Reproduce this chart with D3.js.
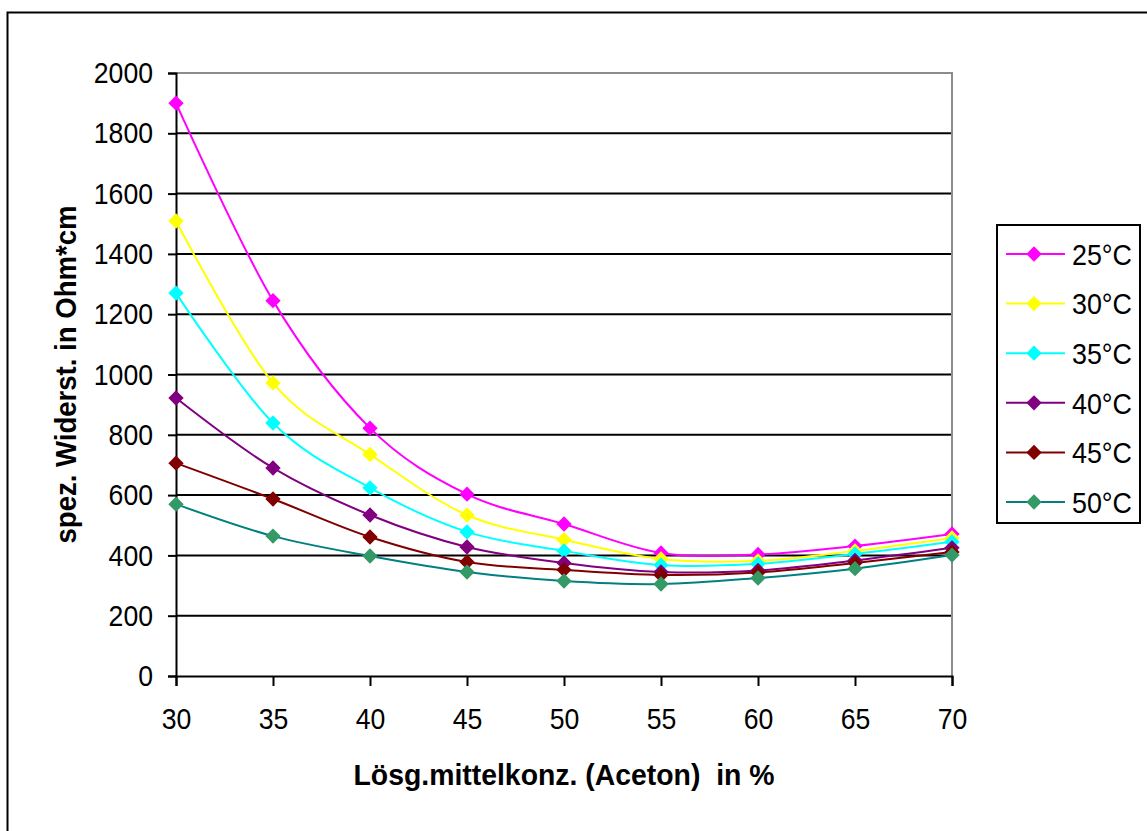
<!DOCTYPE html>
<html>
<head>
<meta charset="utf-8">
<script src="https://cdn.jsdelivr.net/npm/d3@7"></script>
<style>
  html, body { margin: 0; padding: 0; background: #fff; }
  svg { display: block; }
  text { font-family: "Liberation Sans Narrow", "Arial Narrow", "Liberation Sans", Arial, sans-serif; fill: #000; }
</style>
</head>
<body>
<svg id="chart" width="1147" height="831"></svg>
<script>
// ---- data ----
const concentrations = [30, 35, 40, 45, 50, 55, 60, 65, 70];
const seriesNames = ["25°C", "30°C", "35°C", "40°C", "45°C", "50°C"];
const s25 = [1900, 1245, 822, 603, 504, 408, 403, 431, 471];
const s30 = [1509, 972, 735, 534, 452, 388, 382, 415, 458];
const s35 = [1270, 839, 624, 478, 415, 368, 372, 405, 445];
const s40 = [922, 690, 534, 428, 375, 345, 350, 383, 425];
const s45 = [706, 587, 461, 378, 352, 335, 343, 375, 411];
const s50 = [570, 464, 398, 345, 315, 305, 325, 356, 401];
const yTicks = [0, 200, 400, 600, 800, 1000, 1200, 1400, 1600, 1800, 2000];
const xTicks = [30, 35, 40, 45, 50, 55, 60, 65, 70];
const xTitle = "Lösg.mittelkonz. (Aceton)  in %";
const yTitle = "spez. Widerst. in Ohm*cm";

const seriesValues = [s25, s30, s35, s40, s45, s50];
const lineColors = ["#FF00FF", "#FFFF00", "#00FFFF", "#800080", "#800000", "#008080"];
const markerColors = ["#FF00FF", "#FFFF00", "#00FFFF", "#800080", "#800000", "#339966"];

// ---- layout ----
const svg = d3.select("#chart");
const plot = { left: 176, right: 952, top: 73, bottom: 676 };

const x = d3.scaleLinear().domain([30, 70]).range([plot.left, plot.right]);
const y = d3.scaleLinear().domain([0, 2000]).range([plot.bottom, plot.top]);

// outer chart border
svg.append("rect")
  .attr("x", 7.5).attr("y", 12.5)
  .attr("width", 1160).attr("height", 840)
  .attr("fill", "#fff").attr("stroke", "#000").attr("stroke-width", 2);

// gridlines
svg.append("g")
  .selectAll("line")
  .data(yTicks.filter(t => t > 0 && t < 2000))
  .join("line")
  .attr("x1", plot.left).attr("x2", plot.right)
  .attr("y1", d => y(d)).attr("y2", d => y(d))
  .attr("stroke", "#000").attr("stroke-width", 2);

// plot area border (top & right) grey
svg.append("path")
  .attr("d", `M${plot.left},${plot.top}H${plot.right}V${plot.bottom}`)
  .attr("fill", "none").attr("stroke", "#8c8c8c").attr("stroke-width", 2);

// axes
const yAxis = d3.axisLeft(y).tickValues(yTicks).tickSize(8).tickPadding(15).tickFormat(d3.format("d"));
const gy = svg.append("g").attr("transform", `translate(${plot.left},0)`).call(yAxis);
const xAxis = d3.axisBottom(x).tickValues(xTicks).tickSize(10).tickPadding(22).tickFormat(d3.format("d"));
const gx = svg.append("g").attr("transform", `translate(0,${plot.bottom})`).call(xAxis);

[gy, gx].forEach(g => {
  g.select(".domain").attr("stroke", "#000").attr("stroke-width", 2);
  g.selectAll(".tick line").attr("stroke", "#000").attr("stroke-width", 2);
  g.selectAll(".tick text")
    .attr("fill", "#111")
    .style("font-size", "30px")
    .attr("textLength", d => String(d).length * 14.8)
    .attr("lengthAdjust", "spacingAndGlyphs");
});

// series lines
const line = d3.line()
  .x((d, i) => x(concentrations[i]))
  .y(d => y(d))
  .curve(d3.curveCardinal.tension(0));

const diamond = d3.symbol().type(d3.symbolDiamond2).size(150);

seriesValues.forEach((vals, si) => {
  svg.append("path")
    .datum(vals)
    .attr("d", line)
    .attr("fill", "none")
    .attr("stroke", lineColors[si])
    .attr("stroke-width", 2);
});
seriesValues.forEach((vals, si) => {
  svg.append("g")
    .selectAll("path")
    .data(vals)
    .join("path")
    .attr("d", diamond)
    .attr("transform", (d, i) => `translate(${x(concentrations[i])},${y(d)})`)
    .attr("fill", markerColors[si]);
});

// axis titles
svg.append("text")
  .attr("x", (plot.left + plot.right) / 2)
  .attr("y", 785)
  .attr("text-anchor", "middle")
  .attr("xml:space", "preserve")
  .style("white-space", "pre")
  .style("font-size", "29px")
  .style("font-weight", "bold")
  .attr("textLength", 421)
  .attr("lengthAdjust", "spacingAndGlyphs")
  .text(xTitle);

svg.append("text")
  .attr("transform", `translate(76,${(plot.top + plot.bottom) / 2}) rotate(-90)`)
  .attr("text-anchor", "middle")
  .style("font-size", "29px")
  .style("font-weight", "bold")
  .attr("textLength", 338)
  .attr("lengthAdjust", "spacingAndGlyphs")
  .text(yTitle);

// legend
const legend = svg.append("g");
legend.append("rect")
  .attr("x", 997).attr("y", 225)
  .attr("width", 143).attr("height", 298)
  .attr("fill", "#fff").attr("stroke", "#000").attr("stroke-width", 2);

const legendY = d3.scalePoint().domain(seriesNames).range([254, 502]);
seriesNames.forEach((name, si) => {
  const ly = legendY(name);
  legend.append("line")
    .attr("x1", 1006).attr("x2", 1065)
    .attr("y1", ly).attr("y2", ly)
    .attr("stroke", lineColors[si]).attr("stroke-width", 2);
  legend.append("path")
    .attr("d", diamond)
    .attr("transform", `translate(1034,${ly})`)
    .attr("fill", markerColors[si]);
  legend.append("text")
    .attr("x", 1072).attr("y", ly)
    .attr("dy", "0.36em")
    .style("font-size", "30px")
    .attr("fill", "#111")
    .attr("textLength", 60)
    .attr("lengthAdjust", "spacingAndGlyphs")
    .text(name);
});
</script>
</body>
</html>
